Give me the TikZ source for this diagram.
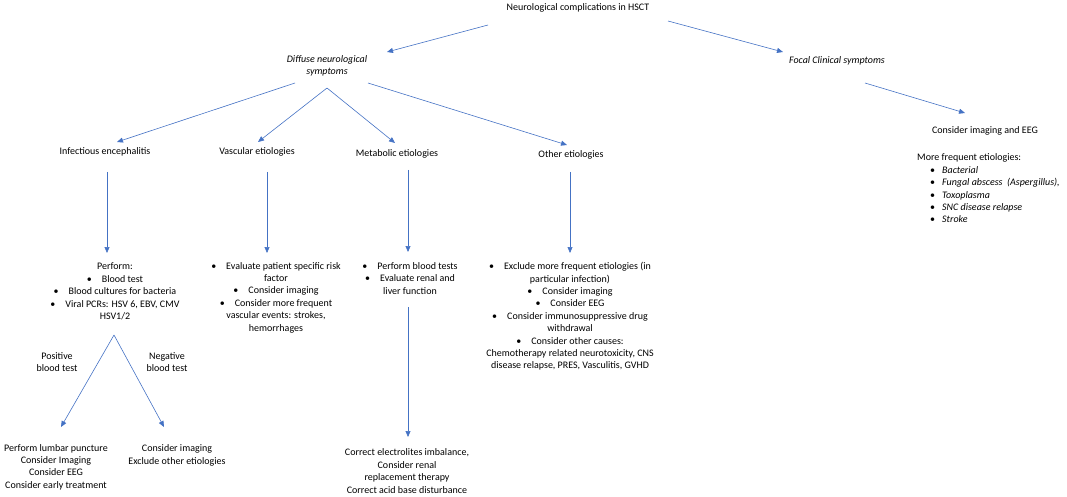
\documentclass[tikz,border=0pt]{standalone}
\usepackage{fontspec}
\setmainfont{Carlito}
\usepackage{xcolor}
\usepackage{tikz}
\usetikzlibrary{positioning,calc,arrows.meta}
\definecolor{flowBlue}{HTML}{4472C4}
\newcommand{\bul}{\makebox[15pt][l]{\textbullet}}
\tikzset{
  stepText/.style={
    inner sep=0pt,
    align=center,
    font=\fontsize{10}{12.4}\selectfont
  },
  causeText/.style={
    stepText,
    font=\fontsize{10}{12.4}\selectfont\itshape
  },
  listText/.style={
    stepText,
    align=left,
    anchor=west
  },
  arrowLine/.style={
    -{Triangle[length=6pt,width=5pt]},
    draw=flowBlue,
    line width=0.6pt
  }
}

\begin{document}
\begin{tikzpicture}[x=1pt,y={(0pt,-1pt)}]
        \useasboundingbox (0,0) rectangle (1067,497);

        % top levels
        \node[stepText] (hsct) at (578,8) {Neurological complications in HSCT};
        \node[causeText] (diffuse) at (327,66) {Diffuse neurological\\symptoms};
        \node[causeText] (focal) at (837,61) {Focal Clinical symptoms};

        % etiology groups
        \node[stepText] (infect) at (105,152) {Infectious encephalitis};
        \node[stepText] (vasc) at (257,152) {Vascular etiologies};
        \node[stepText] (metab) at (397,154) {Metabolic etiologies};
        \node[stepText] (other) at (571,155) {Other etiologies};

        % work-up blocks
        \node[stepText] (perform) at (115,291.5) {Perform:\\\bul Blood test\\\bul Blood cultures for bacteria\\\bul Viral PCRs: HSV 6, EBV, CMV\\HSV1/2};
        \node[stepText] (vascwork) at (276,297.5) {\bul Evaluate patient specific risk\\factor\\\bul Consider imaging\\\bul Consider more frequent\\vascular events: strokes,\\hemorrhages};
        \node[stepText] (metabwork) at (410,278.5) {\bul Perform blood tests\\\bul Evaluate renal and\\liver function};
        \node[stepText] (otherwork) at (570,316.5) {\bul Exclude more frequent etiologies (in\\particular infection)\\\bul Consider imaging\\\bul Consider EEG\\\bul Consider immunosuppressive drug\\withdrawal\\\bul Consider other causes:\\Chemotherapy related neurotoxicity, CNS\\disease relapse, PRES, Vasculitis, GVHD};

        % treatment blocks
        \node[stepText] (lumbar) at (56,467) {Perform lumbar puncture\\Consider Imaging\\Consider EEG\\Consider early treatment};
        \node[stepText] (negwork) at (177,455.5) {Consider imaging\\Exclude other etiologies};
        \node[stepText] (metabfix) at (407,471) {Correct electrolites imbalance,\\Consider renal\\replacement therapy\\Correct acid base disturbance};
        \node[stepText] (poslabel) at (57,362) {Positive\\blood test};
        \node[stepText] (neglabel) at (167,362) {Negative\\blood test};

        % focal branch
        \node[stepText] (imgeeg) at (985,131) {Consider imaging and EEG};
        \node[listText] (freq) at (917,188.5) {More frequent etiologies:\\
          \hspace*{13pt}\makebox[12pt][l]{\textbullet}\textit{Bacterial}\\
          \hspace*{13pt}\makebox[12pt][l]{\textbullet}\textit{Fungal abscess\ \ (Aspergillus),}\\
          \hspace*{13pt}\makebox[12pt][l]{\textbullet}\textit{Toxoplasma}\\
          \hspace*{13pt}\makebox[12pt][l]{\textbullet}\textit{SNC disease relapse}\\
          \hspace*{13pt}\makebox[12pt][l]{\textbullet}\textit{Stroke}};

        \draw[arrowLine] ([shift={(-90,17)}]hsct.center) -- ([shift={(60,-14)}]diffuse.center);
        \draw[arrowLine] ([shift={(90,13)}]hsct.center) -- ([shift={(-54,-9)}]focal.center);
        \draw[arrowLine] ([shift={(-32,17)}]diffuse.center) -- ([shift={(12,-10)}]infect.center);
        \draw[arrowLine] ([shift={(0,22)}]diffuse.center) -- ([shift={(1,-10)}]vasc.center);
        \draw[arrowLine] ([shift={(0,22)}]diffuse.center) -- ([shift={(-2,-11)}]metab.center);
        \draw[arrowLine] ([shift={(41,17)}]diffuse.center) -- ([shift={(-4,-10)}]other.center);
        \draw[arrowLine] ([shift={(28,22)}]focal.center) -- ([shift={(-20,-18)}]imgeeg.center);

        \draw[arrowLine] ([shift={(2,20)}]infect.center) -- ([shift={(-8,-38.5)}]perform.center);
        \draw[arrowLine] ([shift={(10,20)}]vasc.center) -- ([shift={(-9,-44.5)}]vascwork.center);
        \draw[arrowLine] ([shift={(11,16)}]metab.center) -- ([shift={(-2,-26.5)}]metabwork.center);
        \draw[arrowLine] ([shift={(-1,17)}]other.center) -- ([shift={(0,-63.5)}]otherwork.center);
        \draw[arrowLine] ([shift={(-2,28.5)}]metabwork.center) -- ([shift={(1,-34)}]metabfix.center);

        \draw[arrowLine] ([shift={(-1,43.5)}]perform.center) -- ([shift={(5,-40)}]lumbar.center);
        \draw[arrowLine] ([shift={(-1,43.5)}]perform.center) -- ([shift={(-13,-28.5)}]negwork.center);

    \end{tikzpicture}
\end{document}
